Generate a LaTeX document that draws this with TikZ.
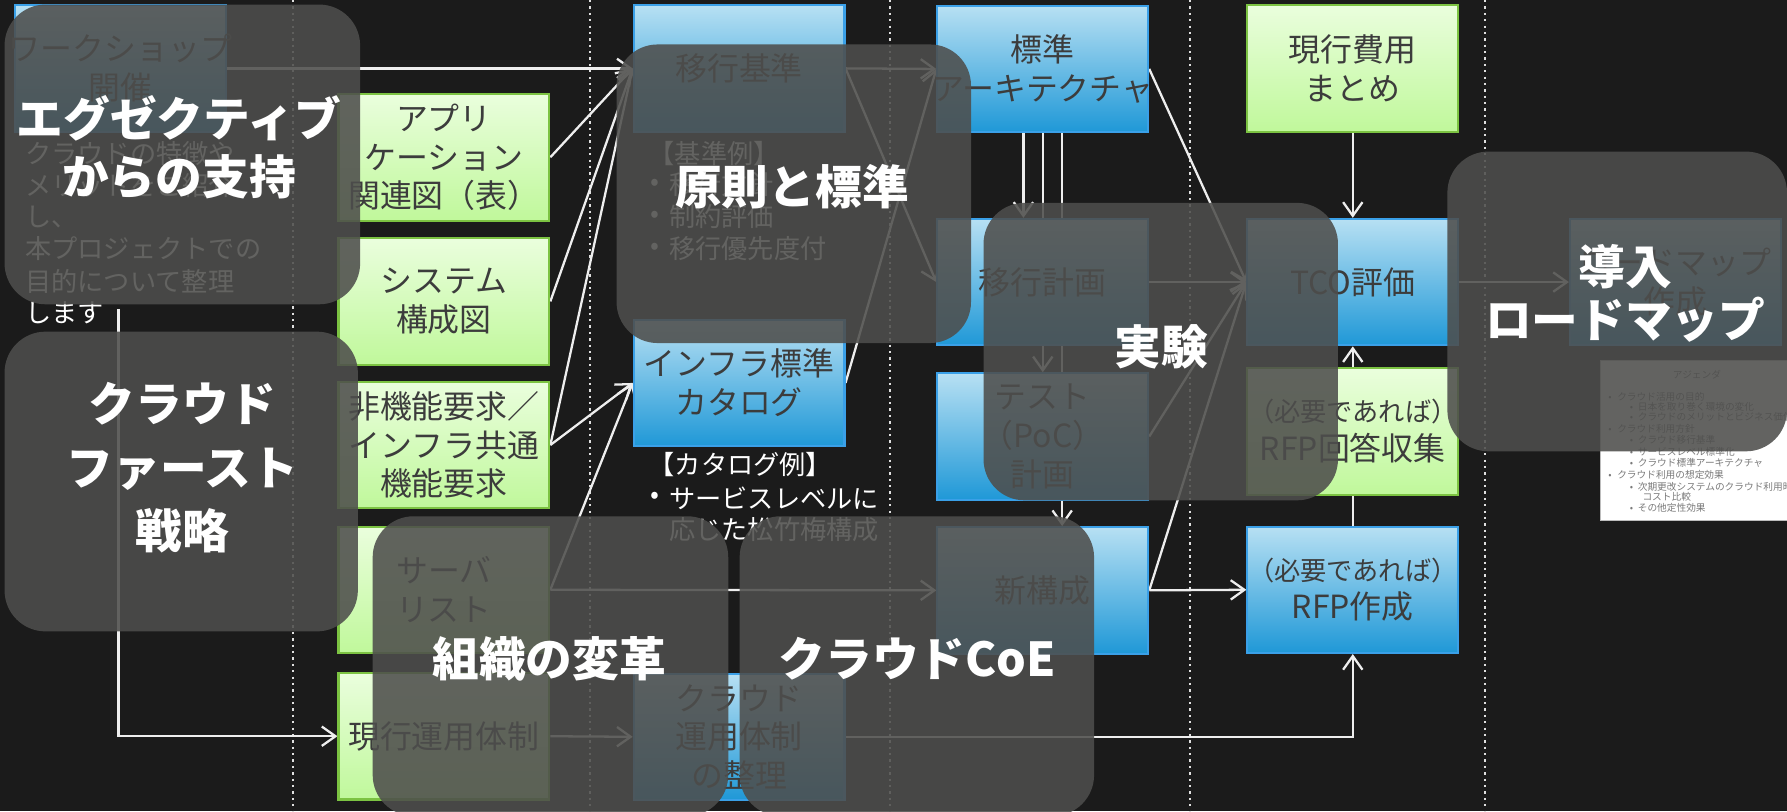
\documentclass[tikz,border=0pt]{standalone}
\usepackage{fontspec}
\setmainfont{Noto Sans CJK JP}
\usetikzlibrary{arrows.meta}
\definecolor{bgc}{HTML}{1B1B1B}
\definecolor{sepc}{HTML}{E0E0E0}
\definecolor{linec}{HTML}{EEEEEE}
\definecolor{txtc}{HTML}{3C3C3C}
\definecolor{gtop}{HTML}{EAFEDD}
\definecolor{gbot}{HTML}{C0F89B}
\definecolor{gborder}{HTML}{7CC342}
\definecolor{btop}{HTML}{B7E0F3}
\definecolor{bbot}{HTML}{1F98D7}
\definecolor{bborder}{HTML}{3AA0E8}
\definecolor{veilc}{HTML}{4E4E4C}
\definecolor{agtxt}{HTML}{7A7A7A}
\definecolor{agborder}{HTML}{BDBDBD}
\newcommand\wideline[1]{\makebox[0pt]{#1}}
\pgfdeclarelayer{back}
\pgfdeclarelayer{conns}
\pgfdeclarelayer{front}
\pgfsetlayers{back,conns,main,front}
\begin{document}
\begin{tikzpicture}[x=1pt,y=-1pt,
  box/.style={rectangle, minimum width=185pt, minimum height=111pt, inner sep=0pt,
    line width=1.8pt, text=txtc, font=\fontsize{28}{34}\selectfont, align=center},
  gbox/.style={box, draw=gborder, top color=gtop, bottom color=gbot},
  bbox/.style={box, draw=bborder, top color=btop, bottom color=bbot},
  conn/.style={draw=linec, line width=2pt, -{Straight Barb[length=12pt,width=17pt]}},
  plainline/.style={draw=linec, line width=2pt},
  sepline/.style={draw=sepc, line width=2pt, dash pattern=on 2pt off 3.6pt},
  veil/.style={fill=veilc, fill opacity=0.88, rounded corners=36pt},
  veiltext/.style={text=white, text opacity=1, align=center, inner sep=0pt},
  note/.style={text=white, font=\fontsize{23}{28}\selectfont, anchor=west, inner sep=0pt},
  bul/.style={text=white, font=\fontsize{23}{28}\selectfont, inner sep=0pt},
  ag/.style={text=agtxt, font=\fontsize{8.5}{10}\selectfont, anchor=west, inner sep=0pt},
]
\clip (0,0) rectangle (1568,712);
\useasboundingbox (0,0) rectangle (1568,712);
\begin{pgfonlayer}{back}
  \fill[bgc] (0,0) rectangle (1568,712);
  \foreach \x in {257,518,781,1044,1303} \draw[sepline] (\x,0) -- (\x,712);
\end{pgfonlayer}

% boxes
\node[bbox] (ws) at (105.5,60) {\wideline{ワークショップ}\\開催};
\node[gbox] (appli) at (389.5,138) {アプリ\\ケーション\\関連図（表）};
\node[gbox] (sys) at (389.5,264.5) {システム\\構成図};
\node[gbox] (nfr) at (389.5,390.5) {\wideline{非機能要求／}\\\wideline{インフラ共通}\\機能要求};
\node[gbox] (srv) at (389.5,517.5) {サーバ\\リスト};
\node[gbox] (curops) at (389.5,646) {現行運用体制};
\node[bbox] (kijun) at (648.5,60) {移行基準};
\node[bbox] (catalog) at (648.5,336) {インフラ標準\\カタログ};
\node[bbox] (cloudops) at (648.5,646.5) {クラウド\\運用体制\\の整理};
\node[bbox] (arch) at (915,60.5) {標準\\\wideline{アーキテクチャ}};
\node[bbox] (plan) at (915,247.5) {移行計画};
\node[bbox] (poc) at (915,383) {テスト\\（PoC）\\計画};
\node[bbox] (newcfg) at (915,518) {新構成};
\node[gbox] (cost) at (1187,60) {現行費用\\まとめ};
\node[bbox] (tco) at (1187,247.5) {TCO評価};
\node[gbox] (rfpans) at (1187,378.5) {{\fontsize{23}{30}\selectfont （必要であれば）}\\RFP回答収集};
\node[bbox] (rfp) at (1187,517.5) {{\fontsize{23}{30}\selectfont （必要であれば）}\\RFP作成};
\node[bbox] (roadmap) at (1470,247.5) {ロードマップ\\作成};

% connectors
\begin{pgfonlayer}{conns}
  \coordinate (vstart) at (104,271);
  \draw[conn] (ws.east) -- (kijun.west);
  \draw[conn] (vstart) |- (curops.west);
  \draw[conn] (appli.east) -- (kijun.west);
  \draw[conn] (sys.east) -- (kijun.west);
  \draw[conn] (nfr.east) -- (kijun.west);
  \draw[conn] (nfr.east) -- (catalog.west);
  \draw[conn] (srv.east) -- (catalog.west);
  \draw[conn] (srv.east) -- (newcfg.west);
  \draw[conn] (curops.east) -- (cloudops.west);
  \draw[conn] (kijun.east) -- (arch.west);
  \draw[conn] (kijun.east) -- (plan.west);
  \draw[conn] (catalog.east) -- (arch.west);
  \draw[conn] ([xshift=-17pt]arch.south) -- ([xshift=-17pt]plan.north);
  \draw[conn] (arch.south) -- (poc.north);
  \draw[conn] ([xshift=17pt]arch.south) -- ([xshift=17pt]newcfg.north);
  \draw[conn] (arch.east) -- (tco.west);
  \draw[conn] (plan.east) -- (tco.west);
  \draw[conn] (poc.east) -- (tco.west);
  \draw[conn] (newcfg.east) -- (tco.west);
  \draw[conn] (newcfg.east) -- (rfp.west);
  \draw[conn] (cloudops.east) -| (rfp.south);
  \draw[conn] (cost.south) -- (tco.north);
  \draw[conn] (rfpans.north) -- (tco.south);
  \draw[plainline] (rfp.north) -- (rfpans.south);
  \draw[conn] (tco.east) -- (roadmap.west);
\end{pgfonlayer}

% notes
\node[note] (w1) at (22,134.5) {クラウドの特徴や};
\node[note] (w2) at (22,162.5) {メリットをご紹介};
\node[note] (w3) at (22,190.5) {し、};
\node[note] (w4) at (22,218.5) {本プロジェクトでの};
\node[note] (w5) at (22,246.5) {目的について整理};
\node[note] (w6) at (22,274.5) {します};

\node[note] (k0) at (569,135) {【基準例】};
\node[bul] (kb1) at (575,162) {•};
\node[note] (k1) at (587,162) {移行方針};
\node[bul] (kb2) at (575,190) {•};
\node[note] (k2) at (587,190) {制約評価};
\node[bul] (kb3) at (575,218) {•};
\node[note] (k3) at (587,218) {移行優先度付};

\node[note] (c0) at (569,408) {【カタログ例】};
\node[bul] (cb1) at (575,437) {•};
\node[note] (c1) at (587,437) {サービスレベルに};
\node[note] (c2) at (587,465) {応じた松竹梅構成};

% agenda thumbnail
\node[draw=agborder, line width=1pt, fill=white, anchor=north west, minimum width=185pt,
  minimum height=140pt, inner sep=0pt] (agenda) at (1404,316) {};
\node[ag, anchor=center] (ag0) at (1489,329) {アジェンダ};
\node[ag] (ag1) at (1411,348) {•\hspace{5pt}クラウド活用の目的};
\node[ag] (ag2) at (1430,357) {•\hspace{4pt}日本を取り巻く環境の変化};
\node[ag] (ag3) at (1430,366) {•\hspace{4pt}クラウドのメリットとビジネス価値};
\node[ag] (ag4) at (1411,376) {•\hspace{5pt}クラウド利用方針};
\node[ag] (ag5) at (1430,386) {•\hspace{4pt}クラウド移行基準};
\node[ag] (ag6) at (1430,396) {•\hspace{4pt}サービスレベル標準化};
\node[ag] (ag7) at (1430,406) {•\hspace{4pt}クラウド標準アーキテクチャ};
\node[ag] (ag8) at (1411,417) {•\hspace{5pt}クラウド利用の想定効果};
\node[ag] (ag9) at (1430,427) {•\hspace{4pt}次期更改システムのクラウド利用時};
\node[ag] (ag10) at (1441,436) {コスト比較};
\node[ag] (ag11) at (1430,446) {•\hspace{4pt}その他定性効果};

% overlays
\begin{pgfonlayer}{front}
  \path[veil] (4,4) rectangle (316,267);
  \path[veil] (4,291) rectangle (314,554);
  \path[veil] (541,39) rectangle (852,301);
  \path[veil] (863,178) rectangle (1174,439);
  \path[veil] (1270,133) rectangle (1568,396);
  \path[veil] (327,453) rectangle (639,716);
  \path[veil] (649,453) rectangle (960,716);
  \node[veiltext, font=\bfseries\fontsize{41}{51}\selectfont] (t1) at (157,129.5) {エグゼクティブ\\からの支持};
  \node[veiltext, font=\bfseries\fontsize{41}{56}\selectfont] (t2) at (160,410.5) {クラウド\\ファースト\\戦略};
  \node[veiltext, font=\bfseries\fontsize{41}{50}\selectfont] (t3) at (695,164) {原則と標準};
  \node[veiltext, font=\bfseries\fontsize{41}{50}\selectfont] (t4) at (1019,304) {実験};
  \node[veiltext, font=\bfseries\fontsize{41}{47}\selectfont] (t5) at (1426,257.5) {導入\\ロードマップ};
  \node[veiltext, font=\bfseries\fontsize{41}{50}\selectfont] (t6) at (482,578) {組織の変革};
  \node[veiltext, font=\bfseries\fontsize{41}{50}\selectfont] (t7) at (805,578) {クラウドCoE};
\end{pgfonlayer}
\end{tikzpicture}
\end{document}
